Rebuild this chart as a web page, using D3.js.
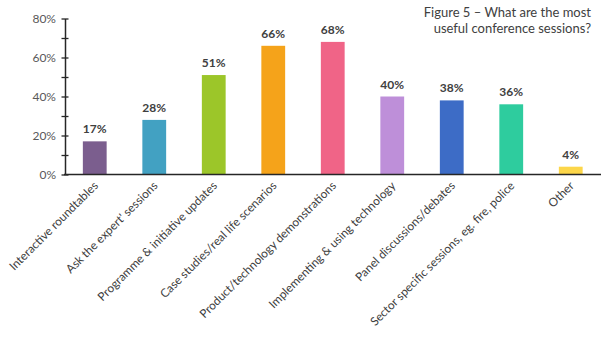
<!DOCTYPE html>
<html><head><meta charset="utf-8">
<script src="https://cdn.jsdelivr.net/npm/d3@7"></script>
<style>body{margin:0;background:#fff}svg{display:block}</style>
</head><body>
<script>
const categories = ["Interactive roundtables","Ask the expert' sessions","Programme & initiative updates","Case studies/real life scenarios","Product/technology demonstrations","Implementing & using technology","Panel discussions/debates","Sector specific sessions, eg. fire, police","Other"];
const values = [17,28,51,66,68,40,38,36,4];
const colors = ["#7B5E8E","#42A1C2","#9CC629","#F5A31A","#F06487","#BE8FD9","#3D6CC6","#2ECC9E","#FCD64A"];
const yTicks = [0,10,20,30,40,50,60,70,80];
const titleLines = ["Figure 5 \u2013 What are the most","useful conference sessions?"];

const W=602,H=337;
const svg=d3.select("body").append("svg").attr("width",W).attr("height",H);
const font="Lato, 'Open Sans', sans-serif";
const x=d3.scaleBand().domain(categories).range([65,600.5]).paddingInner(0.6).paddingOuter(0.3);
const y=d3.scaleLinear().domain([0,80]).range([174.5,18.5]);

// bars
svg.selectAll("rect.bar").data(values).join("rect")
  .attr("x",(d,i)=>x(categories[i])).attr("width",x.bandwidth())
  .attr("y",d=>y(d)).attr("height",d=>y(0)-y(d))
  .attr("fill",(d,i)=>colors[i]);

// value labels
svg.selectAll("text.val").data(values).join("text")
  .attr("x",(d,i)=>x(categories[i])+x.bandwidth()/2).attr("y",d=>y(d)-8)
  .attr("text-anchor","middle").attr("font-family",font).attr("font-weight","bold")
  .attr("font-size",12).attr("fill","#404040").text(d=>d+"%");

// y axis
const yAxis=d3.axisLeft(y).tickValues(yTicks).tickSize(0).tickFormat(d=>d%20===0?d+"%":"");
const ga=svg.append("g").attr("transform","translate(65,0)").call(yAxis);
ga.select(".domain").attr("stroke","#262626").attr("stroke-width",1.5);
ga.selectAll(".tick line").attr("x1",-3.5).attr("x2",3.5).attr("stroke","#262626").attr("stroke-width",1.3);
ga.selectAll(".tick text").attr("x",-9).attr("font-family",font).attr("font-size",12).attr("fill","#595959");

// x baseline
svg.append("line").attr("x1",64).attr("x2",601).attr("y1",y(0)).attr("y2",y(0)).attr("stroke","#262626").attr("stroke-width",1.5);

// x labels
const xAxis=d3.axisBottom(x).tickSize(0);
const gx=svg.append("g").attr("transform",`translate(0,${y(0)})`).call(xAxis);
gx.select(".domain").remove();
gx.selectAll(".tick text").attr("font-family",font).attr("font-size",11.8).attr("fill","#404040")
  .attr("text-anchor","end").attr("dy",0).attr("y",0)
  .attr("transform","translate(4,12) rotate(-45)");

// title
svg.append("text").attr("x",591).attr("y",17).attr("text-anchor","end").attr("font-family",font)
  .attr("font-size",13).attr("fill","#404040")
  .selectAll("tspan").data(titleLines).join("tspan").attr("x",591).attr("dy",(d,i)=>i?16:0).text(d=>d);
</script>
</body></html>
